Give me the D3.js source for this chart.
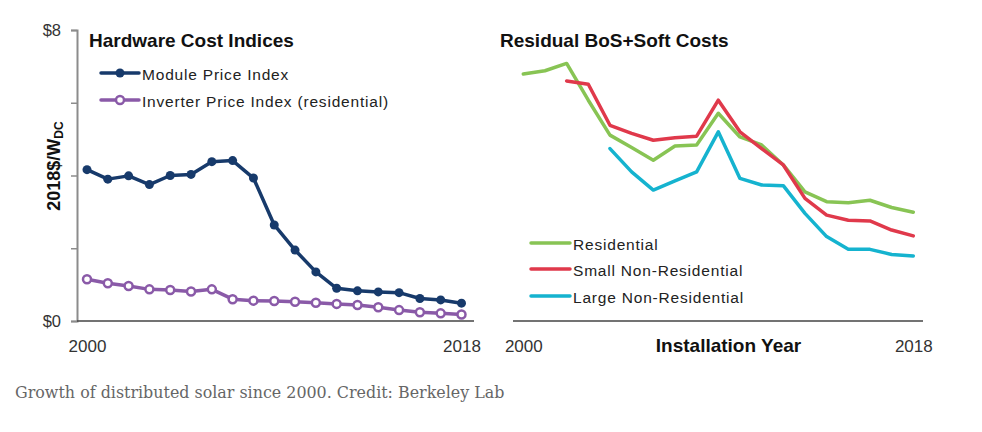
<!DOCTYPE html>
<html><head><meta charset="utf-8">
<script src="https://cdn.jsdelivr.net/npm/d3@7"></script>
<style>
body{margin:0;background:#fff;}
svg{display:block;font-family:"Liberation Sans",Arial,sans-serif;}
</style></head>
<body>
<svg id="c" width="982" height="432"></svg>
<script>
const years = d3.range(2000, 2019);
const moduleIdx = [4.16,3.90,3.99,3.75,4.00,4.03,4.38,4.41,3.93,2.64,1.95,1.35,0.90,0.83,0.80,0.78,0.62,0.58,0.49];
const inverterIdx = [1.15,1.04,0.96,0.87,0.85,0.81,0.87,0.60,0.56,0.55,0.53,0.50,0.47,0.44,0.38,0.30,0.24,0.21,0.18];
const residential = [6.79,6.88,7.08,6.07,5.11,4.77,4.42,4.81,4.84,5.71,5.06,4.84,4.29,3.55,3.28,3.25,3.32,3.12,2.99];
const smallNonRes = [null,null,6.60,6.51,5.38,5.16,4.97,5.04,5.08,6.07,5.20,4.74,4.29,3.37,2.91,2.77,2.75,2.50,2.34];
const largeNonRes = [null,null,null,null,4.74,4.10,3.60,3.85,4.10,5.20,3.92,3.74,3.72,2.96,2.32,1.97,1.97,1.83,1.79];
const yTicks = [0,2,4,6,8];
const yTickLabels = {0:"$0",8:"$8"};
const xTickYears = [2000,2018];

const svg = d3.select("#c");
const y = d3.scaleLinear().domain([0,8]).range([321,30]);
const xL = d3.scaleLinear().domain([2000,2018]).range([87,461.5]);
const xR = d3.scaleLinear().domain([2000,2018]).range([523.3,913.3]);

// Left y axis
const ya = svg.append("g").attr("transform","translate(77,0)")
  .call(d3.axisLeft(y).tickValues(yTicks).tickSize(6).tickFormat(d=>yTickLabels[d]||""));
ya.select(".domain").attr("stroke","#8c8c8c").attr("stroke-width",2);
ya.selectAll(".tick line").attr("stroke","#8c8c8c").attr("stroke-width",1.5);
ya.selectAll(".tick text").attr("font-size",16.5).attr("fill","#333").attr("x",-16)
  .attr("font-family","Liberation Sans, Arial, sans-serif");

// x axes
function xAxis(x, x0, x1){
  svg.append("line").attr("x1",x0).attr("x2",x1).attr("y1",321).attr("y2",321)
    .attr("stroke","#444").attr("stroke-width",1.5);
  const g = svg.append("g").attr("transform","translate(0,321)")
    .call(d3.axisBottom(x).tickValues(xTickYears).tickSize(0).tickFormat(d3.format("d")));
  g.select(".domain").remove();
  g.selectAll(".tick text").attr("font-size",17).attr("fill","#333").attr("y",31).attr("dy",0)
    .attr("font-family","Liberation Sans, Arial, sans-serif");
}
xAxis(xL, 77, 474);
xAxis(xR, 513, 923);

// y label
const yl = svg.append("text").attr("transform","translate(60,166) rotate(-90)")
  .attr("text-anchor","middle").attr("font-weight","bold").attr("font-size",18).attr("fill","#111");
yl.append("tspan").text("2018$/W");
yl.append("tspan").attr("font-size",12).attr("dy",3).text("DC");

// titles
svg.append("text").attr("x",89).attr("y",47).attr("font-weight","bold").attr("font-size",19).attr("fill","#111").text("Hardware Cost Indices");
svg.append("text").attr("x",500).attr("y",47).attr("font-weight","bold").attr("font-size",19).attr("fill","#111").text("Residual BoS+Soft Costs");
svg.append("text").attr("x",728.5).attr("y",352).attr("text-anchor","middle").attr("font-weight","bold").attr("font-size",19).attr("fill","#111").text("Installation Year");

const cNavy="#173a6b", cPurple="#8a5aa8", cGreen="#88c454", cRed="#e0394b", cBlue="#15b3cf";

function drawLine(x, vals, color, width){
  const line = d3.line().defined(d=>d[1]!=null).x(d=>x(d[0])).y(d=>y(d[1]));
  svg.append("path").datum(years.map((yr,i)=>[yr,vals[i]]))
    .attr("d",line).attr("fill","none").attr("stroke",color).attr("stroke-width",width)
    .attr("stroke-linejoin","round").attr("stroke-linecap","round");
}
drawLine(xL, moduleIdx, cNavy, 3.5);
drawLine(xL, inverterIdx, cPurple, 3.5);
svg.append("g").selectAll("circle").data(years.map((yr,i)=>[yr,moduleIdx[i]])).join("circle")
  .attr("cx",d=>xL(d[0])).attr("cy",d=>y(d[1])).attr("r",4.5).attr("fill",cNavy);
svg.append("g").selectAll("circle").data(years.map((yr,i)=>[yr,inverterIdx[i]])).join("circle")
  .attr("cx",d=>xL(d[0])).attr("cy",d=>y(d[1])).attr("r",4).attr("fill","#fff").attr("stroke",cPurple).attr("stroke-width",2.5);

drawLine(xR, residential, cGreen, 3.5);
drawLine(xR, smallNonRes, cRed, 3.5);
drawLine(xR, largeNonRes, cBlue, 3.5);

// legends
function legItem(x0,x1,yy,color,label,marker){
  svg.append("line").attr("x1",x0).attr("x2",x1).attr("y1",yy).attr("y2",yy).attr("stroke",color).attr("stroke-width",3.5).attr("stroke-linecap","round");
  if(marker==="filled") svg.append("circle").attr("cx",(x0+x1)/2).attr("cy",yy).attr("r",4.5).attr("fill",color);
  if(marker==="open") svg.append("circle").attr("cx",(x0+x1)/2).attr("cy",yy).attr("r",4).attr("fill","#fff").attr("stroke",color).attr("stroke-width",2.5);
  svg.append("text").attr("x",x1+3).attr("y",yy+7).attr("font-size",15.5).attr("letter-spacing",0.8).attr("fill","#222").text(label);
}
legItem(101,139,73,cNavy,"Module Price Index","filled");
legItem(101,139,100,cPurple,"Inverter Price Index (residential)","open");
legItem(531,570,243,cGreen,"Residential");
legItem(531,570,269,cRed,"Small Non-Residential");
legItem(531,570,296,cBlue,"Large Non-Residential");

// caption
svg.append("text").attr("x",15).attr("y",398).attr("font-family","DejaVu Serif, serif").attr("font-size",15.9).attr("fill","#666").text("Growth of distributed solar since 2000. Credit: Berkeley Lab");
</script>
</body></html>
